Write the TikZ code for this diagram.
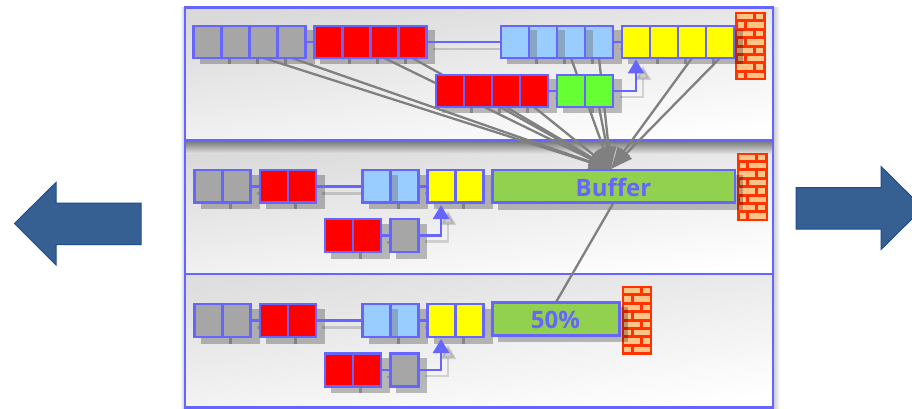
\documentclass[tikz,border=0pt]{standalone}
\usepackage{fontspec}
\setmainfont{Open Sans}
\usetikzlibrary{arrows.meta,backgrounds}
\pgfdeclarelayer{panels}
\pgfdeclarelayer{shadows}
\pgfdeclarelayer{links}
\pgfsetlayers{panels,shadows,links,main}
\definecolor{edge}{HTML}{6666FF}
\definecolor{cgray}{HTML}{A6A6A6}
\definecolor{cred}{HTML}{FF0000}
\definecolor{cblue}{HTML}{99CCFF}
\definecolor{cyellow}{HTML}{FFFF00}
\definecolor{cgreen}{HTML}{66FF33}
\definecolor{cbar}{HTML}{92D050}
\definecolor{arrowfill}{HTML}{376092}
\definecolor{arrowline}{HTML}{1F4A94}
\definecolor{brick}{HTML}{FF3300}
\definecolor{brickin}{HTML}{FFC488}
\definecolor{wire}{HTML}{808080}
\definecolor{stripe}{HTML}{88A6C4}
\tikzset{
  x=1pt,y=-1pt,
  cell/.style={draw=edge,line width=2.6pt,inner sep=0pt,outer sep=0pt,anchor=north west},
  shad/.style={fill=black,fill opacity=.25,draw=none},
  shadline/.style={draw=black,draw opacity=.16,line width=2.6pt},
  conn/.style={draw=edge,line width=2.6pt},
  hook/.style={draw=edge,line width=2.6pt,-{Triangle[length=14pt,width=16pt]}},
  hookshad/.style={black,opacity=.14,line width=2.6pt,-{Triangle[length=14pt,width=16pt]}},
  wirearrow/.style={draw=wire,line width=2.3pt,-{Triangle[length=22pt,width=15pt]}},
  wireplain/.style={draw=wire,line width=2.3pt},
  panel/.style={draw=edge,line width=2.6pt,top color=#1,bottom color=white,shading angle=8},
  bigarrow/.style={fill=arrowfill,draw=arrowline,line width=1pt,line join=miter},
  barlabel/.style={text=edge,font=\bfseries\fontsize{24}{24}\selectfont,inner sep=0pt},
}
% prefix, x, y, cell width, height, count, colour
\newcommand{\cellrun}[7]{%
  \foreach \i in {1,...,#6}{%
    \node[cell,fill=#7,minimum width=#4pt,minimum height=#5pt] (#1\i) at ({#2+(\i-1)*#4},#3) {};
    \begin{pgfonlayer}{shadows}
      \fill[shad] ({#2+(\i-1)*#4+6},{#3+4.5}) rectangle +({#4+3},{#5+2});
    \end{pgfonlayer}
  }%
}
% x, y, height: a stripe of shadow seen through a blue cell
\newcommand{\seethrough}[3]{\fill[stripe] (#1+1.3,#2+4.5) rectangle (#1+7.5,#2+#3-1.3);}
\newcommand{\brickwall}[2]{%
  \fill[brick] (#1,#2) rectangle +(30.5,68.5);
  \foreach \r in {0,2,4,6}{%
    \fill[brickin] ({#1+2},{#2+2+\r*8.4}) rectangle +(16,5.4);
    \fill[brickin] ({#1+21},{#2+2+\r*8.4}) rectangle +(7,5.4);
    \fill[brickin] ({#1+2.5},{#2+2+(\r+1)*8.4}) rectangle +(6.5,5.4);
    \fill[brickin] ({#1+12},{#2+2+(\r+1)*8.4}) rectangle +(16.5,5.4);
  }%
}
\begin{document}
\begin{tikzpicture}
\clip (0,0) rectangle (912,409);

\begin{pgfonlayer}{panels}
  \fill[white] (0,0) rectangle (912,409);
  \shade[left color=black!22,right color=white] (773,8) rectangle (780,408);
  \shade[left color=white,right color=black!22] (180,8) rectangle (185,408);
  \path[panel=black!15] (185,7.5) rectangle (773,140.5);
  \path[panel=black!15] (185,140.5) rectangle (773,274);
  \path[panel=black!13] (185,274) rectangle (773,407.5);
  \shade[top color=black!50,bottom color=black!13] (186,142) rectangle (772,153);
  \draw[edge,line width=2.6pt] (185,140.5) -- (773,140.5);
  \brickwall{735}{12}
  \brickwall{737}{152.5}
  \brickwall{621.5}{286}
\end{pgfonlayer}

% big arrows
\draw[bigarrow] (14.5,223.5) -- (56,182.5) -- (56,203) -- (141,203) -- (141,244.5) -- (56,244.5) -- (56,265) -- cycle;
\draw[bigarrow] (796,187.5) -- (881,187.5) -- (881,166.5) -- (923,208) -- (881,249.5) -- (881,229) -- (796,229) -- cycle;

% ---------- top panel ----------
\cellrun{a}{193.7}{26}{28}{32}{4}{cgray}
\cellrun{b}{314.3}{26}{28}{32}{4}{cred}
\cellrun{c}{501}{26}{28}{32}{4}{cblue}
\seethrough{529}{26}{32}\seethrough{557}{26}{32}\seethrough{585}{26}{32}
\cellrun{d}{622}{26}{28}{32}{4}{cyellow}
\cellrun{e}{436}{75}{28}{32}{4}{cred}
\cellrun{f}{557}{75}{28}{32}{2}{cgreen}
\coordinate (sinkpt) at (611,169);
\begin{pgfonlayer}{links}
  \foreach \s in {a3,a4,b3,b4,c3,c4,d3,d4,e3,e4,f2}
    \draw[wirearrow] (\s.south) -- (sinkpt);
\end{pgfonlayer}
\begin{pgfonlayer}{shadows}
  \draw[shadline] ([shift={(7,6)}]a4.east) -- ([shift={(0,6)}]b1.west);
  \draw[shadline] ([shift={(7,7)}]b4.east) -- ([shift={(0,7)}]c1.west);
  \draw[shadline] ([shift={(7,7)}]c4.east) -- ([shift={(0,7)}]d1.west);
  \draw[shadline] ([shift={(7,7)}]e4.east) -- ([shift={(0,7)}]f1.west);
  \draw[hookshad] ([shift={(7,6)}]f2.east) -| (643,66);
\end{pgfonlayer}
\draw[conn] (a4.east) -- (b1.west);
\draw[conn] (b4.east) -- (c1.west);
\draw[conn] (c4.east) -- (d1.west);
\draw[conn] (e4.east) -- (f1.west);
\coordinate (yA) at (636,59.5);
\draw[hook] (f2.east) -| (yA);

% ---------- middle panel ----------
\cellrun{g}{194.5}{170}{28}{32.5}{2}{cgray}
\cellrun{h}{260}{170}{28}{32.5}{2}{cred}
\cellrun{i}{362.7}{170}{28}{32.5}{2}{cblue}
\seethrough{390.7}{170}{32.5}
\cellrun{j}{427.7}{170}{28}{32.5}{2}{cyellow}
\cellrun{k}{325}{219}{28}{33}{2}{cred}
\cellrun{l}{390.3}{219}{28}{33}{1}{cgray}
\node[cell,fill=cbar,minimum width=242.7pt,minimum height=32.5pt] (buf) at (492.3,170) {};
\node[barlabel] (buftext) at (613.5,187) {Buffer};
\begin{pgfonlayer}{shadows}
  \fill[shad] (498,174.5) rectangle (743,209.5);
  \draw[shadline] ([shift={(6,7)}]g2.east) -- ([shift={(0,7)}]h1.west);
  \draw[shadline] ([shift={(6,7)}]h2.east) -- ([shift={(0,7)}]i1.west);
  \draw[shadline] ([shift={(6,7)}]i2.east) -- ([shift={(0,7)}]j1.west);
  \draw[shadline] ([shift={(6,7)}]k2.east) -- ([shift={(0,7)}]l1.west);
  \draw[hookshad] ([shift={(7,6)}]l1.east) -| (448,211);
\end{pgfonlayer}
\draw[conn] (g2.east) -- (h1.west);
\draw[conn] (h2.east) -- (i1.west);
\draw[conn] (i2.east) -- (j1.west);
\draw[conn] (k2.east) -- (l1.west);
\coordinate (yB) at (441,205);
\draw[hook] (l1.east) -| (yB);

% ---------- bottom panel ----------
\cellrun{m}{194.5}{304}{28}{33}{2}{cgray}
\cellrun{n}{260}{304}{28}{33}{2}{cred}
\cellrun{o}{362.7}{304}{28}{33}{2}{cblue}
\seethrough{390.7}{304}{33}
\cellrun{p}{427.7}{304}{28}{33}{2}{cyellow}
\cellrun{q}{325}{353.5}{28}{33}{2}{cred}
\cellrun{r}{390.3}{353.5}{28}{33}{1}{cgray}
\node[cell,fill=cbar,minimum width=127pt,minimum height=33pt] (bar) at (492.3,302.5) {};
\node[barlabel] (bartext) at (555.5,320) {50\%};
\begin{pgfonlayer}{shadows}
  \fill[shad] (498,307) rectangle (628,342);
  \draw[shadline] ([shift={(6,7)}]m2.east) -- ([shift={(0,7)}]n1.west);
  \draw[shadline] ([shift={(6,7)}]n2.east) -- ([shift={(0,7)}]o1.west);
  \draw[shadline] ([shift={(6,7)}]o2.east) -- ([shift={(0,7)}]p1.west);
  \draw[shadline] ([shift={(6,7)}]q2.east) -- ([shift={(0,7)}]r1.west);
  \draw[hookshad] ([shift={(7,6)}]r1.east) -| (448,345);
\end{pgfonlayer}
\draw[conn] (m2.east) -- (n1.west);
\draw[conn] (n2.east) -- (o1.west);
\draw[conn] (o2.east) -- (p1.west);
\draw[conn] (q2.east) -- (r1.west);
\coordinate (yC) at (441,339);
\draw[hook] (r1.east) -| (yC);

\begin{pgfonlayer}{links}
  \draw[wireplain] (buf.south) -- (bar.north);
\end{pgfonlayer}
\end{tikzpicture}
\end{document}
